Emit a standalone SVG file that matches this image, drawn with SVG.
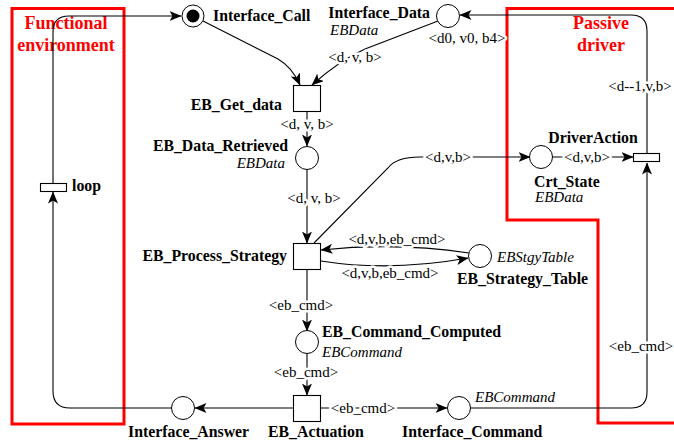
<svg xmlns="http://www.w3.org/2000/svg" width="674" height="442" viewBox="0 0 674 442">
  <style>
    text { font-family: "Liberation Serif", "Times New Roman", serif; font-size: 15px; fill: #000; }
    .name { font-weight: bold; font-size: 15.8px; }
    .type { font-style: italic; }
    .lbl { paint-order: stroke; stroke: #fff; stroke-width: 5px; stroke-linejoin: round; }
    .zone { fill: #f00; font-weight: bold; font-size: 18px; text-anchor: middle; }
    .place { fill: #fff; stroke: #000; stroke-width: 1; }
    .trans { fill: #fff; stroke: #000; stroke-width: 1.1; }
    .arc { fill: none; stroke: #000; stroke-width: 1.1; marker-end: url(#head); }
    .mid { text-anchor: middle; }
    .end { text-anchor: end; }
  </style>
  <defs>
    <marker id="head" viewBox="0 0 12 10" refX="11.5" refY="5" markerWidth="12" markerHeight="10" markerUnits="userSpaceOnUse" orient="auto">
      <path d="M0,0 L12,5 L0,10 L3,5 z" fill="#000"/>
    </marker>
  </defs>
  <rect width="674" height="442" fill="#fff"/>

  <!-- grouping frames -->
  <g id="zones">
    <rect x="12" y="8.5" width="112" height="415.5" fill="none" stroke="#f00" stroke-width="3"/>
    <polyline points="676,8.5 507,8.5 507,220 598,220 598,423 676,423" fill="none" stroke="#f00" stroke-width="3"/>
    <text class="zone" x="66" y="29">Functional</text>
    <text class="zone" x="66" y="51">environment</text>
    <text class="zone" x="601" y="29">Passive</text>
    <text class="zone" x="601" y="51">driver</text>
  </g>

  <!-- connectors -->
  <g id="arcs">
    <path class="arc" d="M53,183 L53,32 Q53,16 69,16 L181,16"/>
    <path class="arc" d="M172,408 L70,408 Q53,408 53,391 L53,192"/>
    <path class="arc" d="M293,408 L195,408"/>
    <path class="arc" d="M321,408 L447,408"/>
    <path class="arc" d="M470,408 L631,408 Q647,408 647,392 L647,163"/>
    <path class="arc" d="M647,153 L647,31 Q647,15 631,15 L460,15"/>
    <path class="arc" d="M438,21 L365,49 Q340,60 312,85"/>
    <path class="arc" d="M203,21 L278,59 Q292,67 300,85"/>
    <path class="arc" d="M307,112 L307,146"/>
    <path class="arc" d="M307,169 L307,243"/>
    <path class="arc" d="M314,243 L388,168 Q396,157 420,157 L530,157"/>
    <path class="arc" d="M469,253 Q395,242 321,250"/>
    <path class="arc" d="M321,261 Q390,272 468,258"/>
    <path class="arc" d="M307,269 L307,331"/>
    <path class="arc" d="M307,353 L307,395"/>
    <path class="arc" d="M552,157 L633,157"/>

    <text class="lbl mid" x="363" y="413">&lt;eb_cmd&gt;</text>
    <text class="lbl mid" x="641" y="351">&lt;eb_cmd&gt;</text>
    <text class="lbl mid" x="640" y="91">&lt;d--1,v,b&gt;</text>
    <text class="lbl mid" x="355" y="62">&lt;d, v, b&gt;</text>
    <text class="lbl mid" x="307" y="129">&lt;d, v, b&gt;</text>
    <text class="lbl mid" x="314" y="203">&lt;d, v, b&gt;</text>
    <text class="lbl mid" x="448" y="162">&lt;d,v,b&gt;</text>
    <text class="lbl mid" x="397" y="244">&lt;d,v,b,eb_cmd&gt;</text>
    <text class="lbl mid" x="390" y="278">&lt;d,v,b,eb_cmd&gt;</text>
    <text class="lbl mid" x="301" y="310">&lt;eb_cmd&gt;</text>
    <text class="lbl mid" x="306" y="377">&lt;eb_cmd&gt;</text>
    <text class="lbl mid" x="587" y="162">&lt;d,v,b&gt;</text>
  </g>

  <!-- places -->
  <g id="Interface_Call">
    <circle class="place" cx="193" cy="16" r="11"/>
    <circle cx="193" cy="16" r="6.5" fill="#000"/>
    <text class="name" x="213" y="21">Interface_Call</text>
  </g>
  <g id="Interface_Data">
    <circle class="place" cx="448" cy="16" r="11.5"/>
    <text class="name end" x="430" y="18">Interface_Data</text>
    <text class="type" x="330" y="35">EBData</text>
    <text class="lbl mid" x="467" y="43">&lt;d0, v0, b4&gt;</text>
  </g>
  <g id="EB_Data_Retrieved">
    <circle class="place" cx="307" cy="158" r="11.5"/>
    <text class="name end" x="288" y="151">EB_Data_Retrieved</text>
    <text class="type end" x="285" y="168">EBData</text>
  </g>
  <g id="Crt_State">
    <circle class="place" cx="541" cy="157" r="11.5"/>
    <text class="name" x="534" y="187">Crt_State</text>
    <text class="type" x="535" y="202">EBData</text>
  </g>
  <g id="EB_Strategy_Table">
    <circle class="place" cx="480" cy="256" r="11.5"/>
    <text class="type" x="497" y="262">EBStgyTable</text>
    <text class="name" x="457" y="284">EB_Strategy_Table</text>
  </g>
  <g id="EB_Command_Computed">
    <circle class="place" cx="307" cy="342" r="11.5"/>
    <text class="name" x="322" y="337">EB_Command_Computed</text>
    <text class="type" x="322" y="357">EBCommand</text>
  </g>
  <g id="Interface_Answer">
    <circle class="place" cx="183" cy="408" r="11.5"/>
    <text class="name" x="128" y="437">Interface_Answer</text>
  </g>
  <g id="Interface_Command">
    <circle class="place" cx="459" cy="408" r="11.5"/>
    <text class="type" x="475" y="402">EBCommand</text>
    <text class="name" x="402" y="437">Interface_Command</text>
  </g>

  <!-- transitions -->
  <g id="EB_Get_data">
    <rect class="trans" x="293.5" y="85.5" width="27" height="26"/>
    <text class="name end" x="282" y="110">EB_Get_data</text>
  </g>
  <g id="EB_Process_Strategy">
    <rect class="trans" x="293.5" y="243.5" width="27" height="26"/>
    <text class="name end" x="287" y="261">EB_Process_Strategy</text>
  </g>
  <g id="EB_Actuation">
    <rect class="trans" x="293.5" y="395.5" width="27" height="26"/>
    <text class="name" x="268" y="437">EB_Actuation</text>
  </g>
  <g id="loop">
    <rect class="trans" x="40.5" y="183.5" width="26" height="8"/>
    <text class="name" x="72" y="191">loop</text>
  </g>
  <g id="DriverAction">
    <rect class="trans" x="633.5" y="153.5" width="26" height="8"/>
    <text class="name mid" x="593" y="143">DriverAction</text>
  </g>
</svg>
